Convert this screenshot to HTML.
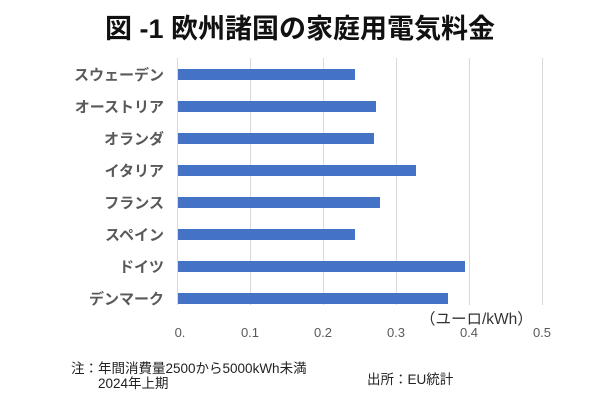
<!DOCTYPE html>
<html><head><meta charset="utf-8"><style>
body{margin:0;width:600px;height:400px;background:#fff;overflow:hidden}
svg text{font-family:"Liberation Sans","Noto Sans CJK JP",sans-serif}
</style></head><body>
<svg width="600" height="400" xmlns="http://www.w3.org/2000/svg">
<text x="300" y="38" text-anchor="middle" font-size="27" font-weight="bold" fill="#111">図 -1 欧州諸国の家庭用電気料金</text>
<g stroke="#d9d9d9" stroke-width="1">
<line x1="177.5" y1="58" x2="177.5" y2="305"/>
<line x1="250.5" y1="58" x2="250.5" y2="305"/>
<line x1="323.5" y1="58" x2="323.5" y2="305"/>
<line x1="396.5" y1="58" x2="396.5" y2="305"/>
<line x1="469.5" y1="58" x2="469.5" y2="305"/>
<line x1="542.5" y1="58" x2="542.5" y2="305"/>
</g>
<g fill="#4472c4">
<rect x="178" y="69" width="177" height="11"/>
<rect x="178" y="101" width="198" height="11"/>
<rect x="178" y="133" width="196" height="11"/>
<rect x="178" y="165" width="238" height="11"/>
<rect x="178" y="197" width="202" height="11"/>
<rect x="178" y="229" width="177" height="11"/>
<rect x="178" y="261" width="287" height="11"/>
<rect x="178" y="293" width="270" height="11"/>
</g>
<g font-size="15" font-weight="bold" fill="#595959" text-anchor="end">
<text x="164" y="80">スウェーデン</text>
<text x="164" y="112">オーストリア</text>
<text x="164" y="144">オランダ</text>
<text x="164" y="176">イタリア</text>
<text x="164" y="208">フランス</text>
<text x="164" y="240">スペイン</text>
<text x="164" y="272">ドイツ</text>
<text x="164" y="304">デンマーク</text>
</g>
<g font-size="13" fill="#595959" text-anchor="middle">
<text x="180" y="337">0.</text>
<text x="250" y="337">0.1</text>
<text x="323" y="337">0.2</text>
<text x="396" y="337">0.3</text>
<text x="469" y="337">0.4</text>
<text x="542" y="337">0.5</text>
</g>
<text x="420" y="324" font-size="15.5" fill="#333">（ユーロ/kWh）</text>
<g font-size="13.5" fill="#222">
<text x="71" y="373">注：年間消費量2500から5000kWh未満</text>
<text x="98" y="388">2024年上期</text>
<text x="367" y="384">出所：EU統計</text>
</g>
</svg>
</body></html>
